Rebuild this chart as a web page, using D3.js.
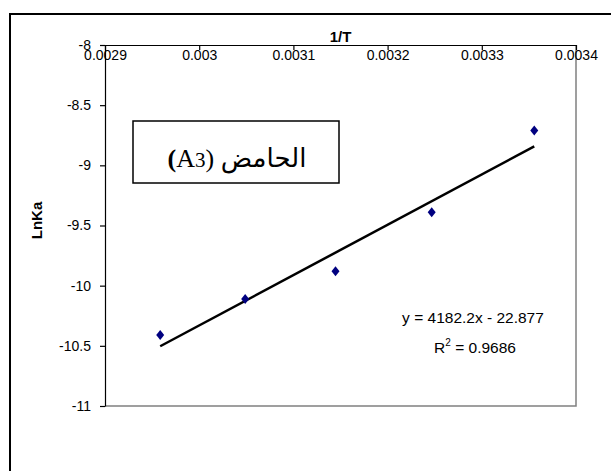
<!DOCTYPE html>
<html>
<head>
<meta charset="utf-8">
<script src="https://cdn.jsdelivr.net/npm/d3@7"></script>
<style>
  body { margin: 0; background: #fff; }
  svg { display: block; }
</style>
</head>
<body>
<svg id="chart" width="611" height="471"></svg>
<script>
// 1/T (K^-1) against ln Ka for the acid A3
const invT = [0.0029586, 0.0030488, 0.0031447, 0.0032468, 0.0033557];
const lnKa = [-10.41, -10.11, -9.88, -9.39, -8.71];
const xTicks = [0.0029, 0.003, 0.0031, 0.0032, 0.0033, 0.0034];
const yTicks = [-8, -8.5, -9, -9.5, -10, -10.5, -11];
const fitSlope = 4182.2;
const fitIntercept = -22.877;
const fitR2 = 0.9686;
const acidWord = "الحامض";
const acidCode = ["A", "3"];

const svg = d3.select("#chart");
const sans = "'Liberation Sans', Arial, sans-serif";

// outer chart frame (runs past the right and bottom edges)
svg.append("rect")
  .attr("x", 10).attr("y", 14)
  .attr("width", 640).attr("height", 500)
  .attr("fill", "#fff")
  .attr("stroke", "#000").attr("stroke-width", 2);

const plot = { left: 105, top: 45, right: 576, bottom: 406 };

const x = d3.scaleLinear().domain([0.0029, 0.0034]).range([plot.left, plot.right]);
const y = d3.scaleLinear().domain([-11, -8]).range([plot.bottom, plot.top]);

// plot area: grey right/bottom border
svg.append("path")
  .attr("d", `M${plot.right},${plot.top}V${plot.bottom}H${plot.left}`)
  .attr("fill", "none").attr("stroke", "#808080").attr("stroke-width", 1.5);

const fmt = d => String(d);

// y axis
const gy = svg.append("g")
  .attr("transform", `translate(${plot.left},0)`)
  .call(d3.axisLeft(y).tickValues(yTicks).tickFormat(fmt).tickSize(5).tickSizeOuter(0).tickPadding(9));

// x axis along the top, labels hanging below it
const gx = svg.append("g")
  .attr("transform", `translate(0,${plot.top})`)
  .call(d3.axisBottom(x).tickValues(xTicks).tickFormat(fmt).tickSize(5).tickSizeOuter(0).tickPadding(0));

[gx, gy].forEach(g => {
  g.select(".domain").attr("stroke", "#000").attr("stroke-width", 1.2);
  g.selectAll(".tick line").attr("stroke", "#000").attr("stroke-width", 1.2);
  g.selectAll(".tick text")
    .attr("fill", "#000")
    .style("font-family", sans)
    .style("font-size", "14px");
});

// axis titles
svg.append("text")
  .attr("x", (plot.left + plot.right) / 2).attr("y", 42)
  .attr("text-anchor", "middle")
  .style("font-family", sans)
  .style("font-size", "15px").style("font-weight", "bold")
  .text("1/T");

svg.append("text")
  .attr("transform", `translate(42,${(plot.top + plot.bottom) / 2 - 5}) rotate(-90)`)
  .attr("text-anchor", "middle")
  .style("font-family", sans)
  .style("font-size", "15px").style("font-weight", "bold")
  .text("LnKa");

// linear trendline over the data range
const xExt = d3.extent(invT);
svg.append("line")
  .attr("x1", x(xExt[0])).attr("y1", y(fitSlope * xExt[0] + fitIntercept))
  .attr("x2", x(xExt[1])).attr("y2", y(fitSlope * xExt[1] + fitIntercept))
  .attr("stroke", "#000").attr("stroke-width", 2.5);

// data points as navy diamonds
const diamond = "M0,-5L4,0L0,5L-4,0Z";
svg.append("g").selectAll("path")
  .data(invT.map((v, i) => [v, lnKa[i]]))
  .join("path")
  .attr("d", diamond)
  .attr("transform", d => `translate(${x(d[0])},${y(d[1])})`)
  .attr("fill", "#000080");

// equation and R²
const eq = svg.append("g")
  .style("font-family", sans)
  .style("font-size", "15.5px");
eq.append("text")
  .attr("x", 473).attr("y", 323)
  .attr("text-anchor", "middle")
  .text(`y = ${fitSlope}x - ${Math.abs(fitIntercept)}`);
const r = eq.append("text")
  .attr("x", 475).attr("y", 353)
  .attr("text-anchor", "middle");
r.append("tspan").text("R");
r.append("tspan").attr("dy", -7).style("font-size", "10px").text("2");
r.append("tspan").attr("dy", 7).text(` = ${fitR2}`);

// label box for the acid
svg.append("rect")
  .attr("x", 133).attr("y", 121)
  .attr("width", 206).attr("height", 62)
  .attr("fill", "#fff")
  .attr("stroke", "#000").attr("stroke-width", 1.5);
const lab = svg.append("text")
  .attr("x", 237).attr("y", 167)
  .attr("text-anchor", "middle")
  .style("font-family", "'Liberation Serif', 'Times New Roman', 'DejaVu Sans', serif")
  .style("font-size", "26px");
lab.append("tspan").style("font-weight", "bold").text("(");
lab.append("tspan").text(acidCode[0]);
lab.append("tspan").style("font-size", "21px").text(acidCode[1]);
lab.append("tspan").text(") " + acidWord);
</script>
</body>
</html>
